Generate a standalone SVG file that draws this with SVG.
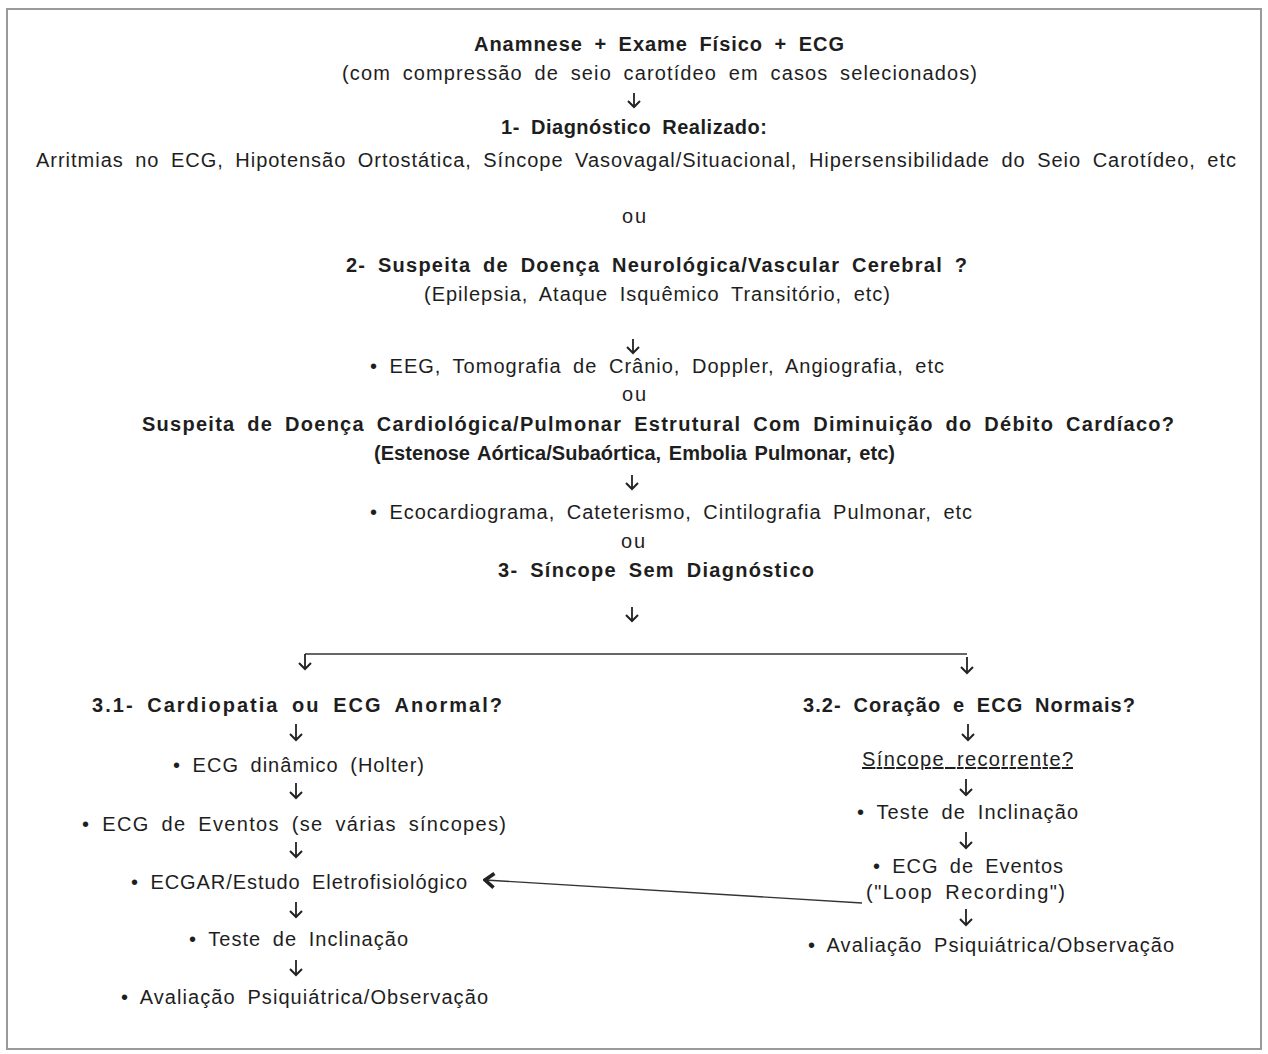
<svg xmlns="http://www.w3.org/2000/svg" width="1268" height="1054" viewBox="0 0 1268 1054">
<defs>
<style>
text{font-family:"Liberation Sans",Arial,sans-serif;font-size:20px;fill:#1e1e1e;word-spacing:5px;}
.b{font-weight:bold;}
.u{text-decoration:underline;}
.c{stroke:#222;stroke-width:1.8;fill:none;}
.ln{stroke:#333;stroke-width:1.4;fill:none;}
</style>
<marker id="dn" viewBox="-8 -8 10 16" refX="0" refY="0" markerWidth="10" markerHeight="16" markerUnits="userSpaceOnUse" orient="auto">
<path d="M-6,-6 L0,0 L-6,6" fill="none" stroke="#222" stroke-width="2"/>
</marker>
<marker id="lf" viewBox="-12 -10 14 20" refX="0" refY="0" markerWidth="14" markerHeight="20" markerUnits="userSpaceOnUse" orient="auto">
<path d="M-9,-7 L0,0 L-9,7" fill="none" stroke="#222" stroke-width="3.6"/>
</marker>
</defs>
<rect x="0" y="0" width="1268" height="1054" fill="#fff"/>
<rect x="7" y="9" width="1254" height="1040" fill="none" stroke="#9a9a9a" stroke-width="2"/>

<g id="connectors">
<line class="c" x1="634" y1="93" x2="634" y2="107" marker-end="url(#dn)"/>
<line class="c" x1="633" y1="339" x2="633" y2="353" marker-end="url(#dn)"/>
<line class="c" x1="632" y1="475" x2="632" y2="489" marker-end="url(#dn)"/>
<line class="c" x1="632" y1="607" x2="632" y2="621" marker-end="url(#dn)"/>
<line class="ln" x1="305" y1="654" x2="967" y2="654"/>
<line class="c" x1="305" y1="654" x2="305" y2="669" marker-end="url(#dn)"/>
<line class="c" x1="967" y1="657" x2="967" y2="673" marker-end="url(#dn)"/>
<line class="c" x1="296" y1="724" x2="296" y2="740" marker-end="url(#dn)"/>
<line class="c" x1="296" y1="783" x2="296" y2="798" marker-end="url(#dn)"/>
<line class="c" x1="296" y1="842" x2="296" y2="857" marker-end="url(#dn)"/>
<line class="c" x1="296" y1="902" x2="296" y2="917" marker-end="url(#dn)"/>
<line class="c" x1="296" y1="960" x2="296" y2="975" marker-end="url(#dn)"/>
<line class="c" x1="968" y1="724" x2="968" y2="740" marker-end="url(#dn)"/>
<line class="c" x1="966" y1="779" x2="966" y2="795" marker-end="url(#dn)"/>
<line class="c" x1="966" y1="832" x2="966" y2="848" marker-end="url(#dn)"/>
<line class="c" x1="966" y1="909" x2="966" y2="925" marker-end="url(#dn)"/>
<line class="ln" x1="862" y1="903" x2="485" y2="880" marker-end="url(#lf)"/>
</g>

<g id="n-inicio">
<text class="b" x="474" y="51" textLength="370" lengthAdjust="spacing">Anamnese + Exame Físico + ECG</text>
<text x="342" y="80" textLength="635" lengthAdjust="spacing">(com compressão de seio carotídeo em casos selecionados)</text>
</g>
<g id="n-diag1">
<text class="b" x="501" y="134" textLength="266" lengthAdjust="spacing">1- Diagnóstico Realizado:</text>
<text x="36" y="167" textLength="1200" lengthAdjust="spacing">Arritmias no ECG, Hipotensão Ortostática, Síncope Vasovagal/Situacional, Hipersensibilidade do Seio Carotídeo, etc</text>
</g>
<g id="ou1"><text x="622" y="223" textLength="24" lengthAdjust="spacing">ou</text></g>
<g id="n-neuro">
<text class="b" x="346" y="272" textLength="621" lengthAdjust="spacing">2- Suspeita de Doença Neurológica/Vascular Cerebral ?</text>
<text x="424" y="301" textLength="466" lengthAdjust="spacing">(Epilepsia, Ataque Isquêmico Transitório, etc)</text>
</g>
<g id="n-eeg"><text x="370" y="373" textLength="574" lengthAdjust="spacing">• EEG, Tomografia de Crânio, Doppler, Angiografia, etc</text></g>
<g id="ou2"><text x="622" y="401" textLength="24" lengthAdjust="spacing">ou</text></g>
<g id="n-cardio">
<text class="b" x="142" y="431" textLength="1032" lengthAdjust="spacing">Suspeita de Doença Cardiológica/Pulmonar Estrutural Com Diminuição do Débito Cardíaco?</text>
<text class="b" x="374" y="460" textLength="521" lengthAdjust="spacing" style="word-spacing:2px">(Estenose Aórtica/Subaórtica, Embolia Pulmonar, etc)</text>
</g>
<g id="n-eco"><text x="370" y="519" textLength="602" lengthAdjust="spacing">• Ecocardiograma, Cateterismo, Cintilografia Pulmonar, etc</text></g>
<g id="ou3"><text x="621" y="548" textLength="24" lengthAdjust="spacing">ou</text></g>
<g id="n-sem"><text class="b" x="498" y="577" textLength="316" lengthAdjust="spacing">3- Síncope Sem Diagnóstico</text></g>

<g id="n-31"><text class="b" x="92" y="712" textLength="410" lengthAdjust="spacing">3.1- Cardiopatia ou ECG Anormal?</text></g>
<g id="n-holter"><text x="173" y="772" textLength="251" lengthAdjust="spacing">• ECG dinâmico (Holter)</text></g>
<g id="n-eventos-l"><text x="82" y="831" textLength="424" lengthAdjust="spacing">• ECG de Eventos (se várias síncopes)</text></g>
<g id="n-ecgar"><text x="131" y="889" textLength="336" lengthAdjust="spacing">• ECGAR/Estudo Eletrofisiológico</text></g>
<g id="n-tilt-l"><text x="189" y="946" textLength="219" lengthAdjust="spacing">• Teste de Inclinação</text></g>
<g id="n-psiq-l"><text x="121" y="1004" textLength="367" lengthAdjust="spacing">• Avaliação Psiquiátrica/Observação</text></g>

<g id="n-32"><text class="b" x="803" y="712" textLength="332" lengthAdjust="spacing">3.2- Coração e ECG Normais?</text></g>
<g id="n-recorrente"><text class="u" x="862" y="766" textLength="211" lengthAdjust="spacing">Síncope recorrente?</text></g>
<g id="n-tilt-r"><text x="857" y="819" textLength="221" lengthAdjust="spacing">• Teste de Inclinação</text></g>
<g id="n-loop">
<text x="873" y="873" textLength="190" lengthAdjust="spacing">• ECG de Eventos</text>
<text x="866" y="899" textLength="199" lengthAdjust="spacing">("Loop Recording")</text>
</g>
<g id="n-psiq-r"><text x="808" y="952" textLength="366" lengthAdjust="spacing">• Avaliação Psiquiátrica/Observação</text></g>
</svg>
